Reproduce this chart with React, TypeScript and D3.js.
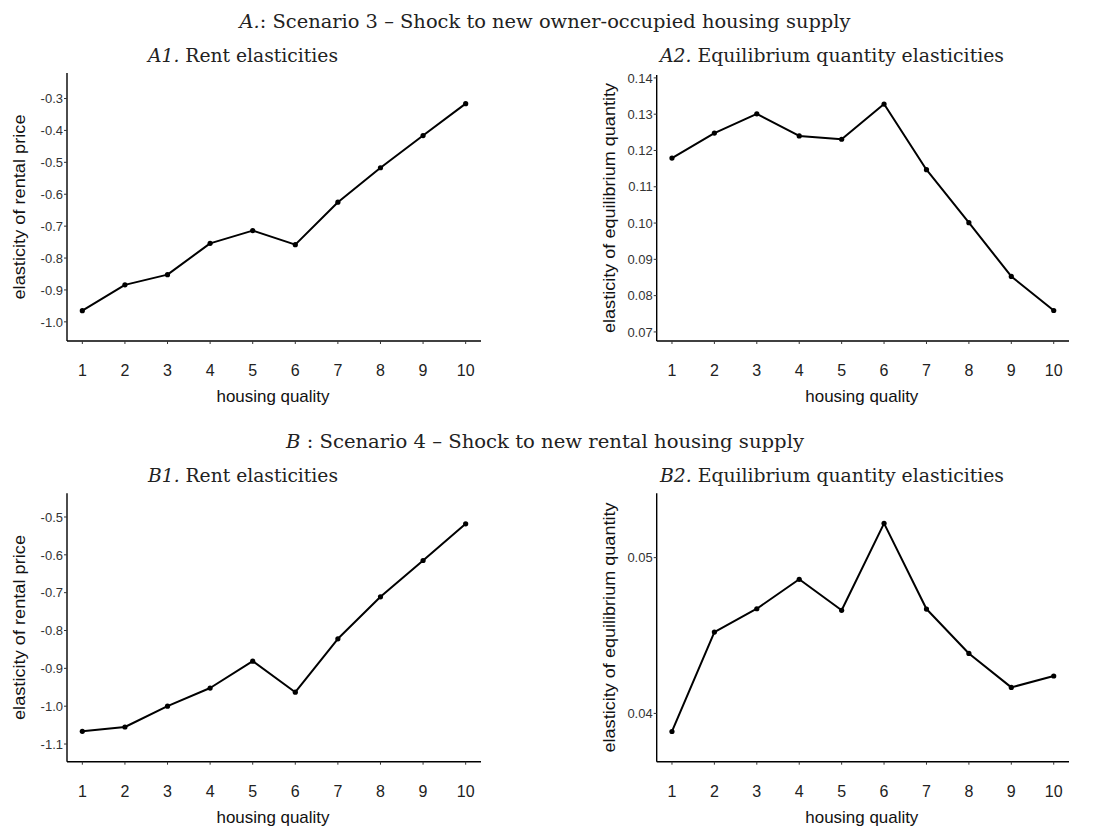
import React from "react";
import * as d3 from "d3";

const quality = [1, 2, 3, 4, 5, 6, 7, 8, 9, 10];
const a1Rent = [-0.965, -0.884, -0.852, -0.754, -0.714, -0.758, -0.625, -0.517, -0.416, -0.316];
const a2Qty = [0.1179, 0.1248, 0.1301, 0.124, 0.1231, 0.1328, 0.1147, 0.1001, 0.0853, 0.0759];
const b1Rent = [-1.0665, -1.055, -1.0, -0.952, -0.881, -0.963, -0.822, -0.711, -0.615, -0.518];
const b2Qty = [0.03884, 0.04522, 0.04672, 0.04861, 0.04662, 0.0522, 0.0467, 0.04385, 0.04167, 0.0424];

const a1Ticks = [-1.0, -0.9, -0.8, -0.7, -0.6, -0.5, -0.4, -0.3];
const a2Ticks = [0.07, 0.08, 0.09, 0.1, 0.11, 0.12, 0.13, 0.14];
const b1Ticks = [-1.1, -1.0, -0.9, -0.8, -0.7, -0.6, -0.5];
const b2Ticks = [0.04, 0.05];

const titleA = ": Scenario 3 \u2013 Shock to new owner-occupied housing supply";
const titleB = " : Scenario 4 \u2013 Shock to new rental housing supply";

type Panel = {
  tag: string;
  title: string;
  titleCx: number;
  titleLen: number;
  values: number[];
  ticks: number[];
  fmt: (v: number) => string;
  yDomain: [number, number];
  left: number;
  right: number;
  top: number;
  bottom: number;
  yTitle: string;
  yTitleX: number;
  yTitleLen: number;
  titleY: number;
};

const fmt1 = (v: number) => d3.format(".1f")(v).replace("\u2212", "-");
const fmt2 = (v: number) => d3.format(".2f")(v);

const panels: Panel[] = [
  { tag: "A1.", title: " Rent elasticities", titleCx: 243, titleLen: 190, values: a1Rent, ticks: a1Ticks, fmt: fmt1,
    yDomain: [-1.06, -0.22], left: 67, right: 481, top: 73, bottom: 341, yTitle: "elasticity of rental price", yTitleX: 25, yTitleLen: 185, titleY: 62 },
  { tag: "A2.", title: " Equilibrium quantity elasticities", titleCx: 832, titleLen: 344, values: a2Qty, ticks: a2Ticks, fmt: fmt2,
    yDomain: [0.0675, 0.1408], left: 656.7, right: 1069, top: 75, bottom: 341, yTitle: "elasticity of equilibrium quantity", yTitleX: 615, yTitleLen: 250, titleY: 62 },
  { tag: "B1.", title: " Rent elasticities", titleCx: 243, titleLen: 190, values: b1Rent, ticks: b1Ticks, fmt: fmt1,
    yDomain: [-1.1467, -0.4374], left: 67, right: 481, top: 493.3, bottom: 761.7, yTitle: "elasticity of rental price", yTitleX: 25, yTitleLen: 185, titleY: 482 },
  { tag: "B2.", title: " Equilibrium quantity elasticities", titleCx: 832, titleLen: 344, values: b2Qty, ticks: b2Ticks, fmt: fmt2,
    yDomain: [0.0369, 0.05413], left: 656.7, right: 1069, top: 493.3, bottom: 761.7, yTitle: "elasticity of equilibrium quantity", yTitleX: 615, yTitleLen: 250, titleY: 482 },
];

const serif = "'DejaVu Serif', 'Liberation Serif', serif";
const sans = "'Liberation Sans', Arial, sans-serif";

function PanelView({ p }: { p: Panel }) {
  const x = d3.scaleLinear().domain([0.64, 10.36]).range([p.left, p.right]);
  const y = d3.scaleLinear().domain(p.yDomain).range([p.bottom, p.top]);
  const pts = quality.map((q, i) => [q, p.values[i]] as [number, number]);
  const line = d3.line<[number, number]>().x((d) => x(d[0])).y((d) => y(d[1]));
  const cx = (p.left + p.right) / 2 - 1;
  return (
    <g>
      <text x={p.titleCx} y={p.titleY} textAnchor="middle" fontFamily={serif} fontSize={18} fill="#222"
        textLength={p.titleLen} lengthAdjust="spacingAndGlyphs">
        <tspan fontStyle="italic">{p.tag}</tspan>
        <tspan>{p.title}</tspan>
      </text>
      <line x1={p.left} x2={p.left} y1={p.top} y2={p.bottom} stroke="#000" strokeWidth={1.4} />
      <line x1={p.left} x2={p.right} y1={p.bottom} y2={p.bottom} stroke="#000" strokeWidth={1.4} />
      {p.ticks.map((t) => (
        <g key={t}>
          <line x1={p.left - 3} x2={p.left} y1={y(t)} y2={y(t)} stroke="#333" strokeWidth={1} />
          <text x={p.left - 4} y={y(t)} dy="0.36em" textAnchor="end" fontFamily={sans} fontSize={13} fill="#333">
            {p.fmt(t)}
          </text>
        </g>
      ))}
      {quality.map((q) => (
        <g key={q}>
          <line x1={x(q)} x2={x(q)} y1={p.bottom} y2={p.bottom + 3} stroke="#333" strokeWidth={1} />
          <text x={x(q)} y={p.bottom + 35} textAnchor="middle" fontFamily={sans} fontSize={16} fill="#222">
            {q}
          </text>
        </g>
      ))}
      <text x={cx} y={p.bottom + 61} textAnchor="middle" fontFamily={sans} fontSize={17} fill="#111"
        textLength={113} lengthAdjust="spacingAndGlyphs">
        housing quality
      </text>
      <g transform={`translate(${p.yTitleX},${(p.top + p.bottom) / 2}) rotate(-90)`}>
        <text x={0} y={0} textAnchor="middle" fontFamily={sans} fontSize={17} fill="#111"
          textLength={p.yTitleLen} lengthAdjust="spacingAndGlyphs">
          {p.yTitle}
        </text>
      </g>
      <path d={line(pts) || ""} fill="none" stroke="#000" strokeWidth={2} strokeLinejoin="round" />
      {pts.map((d, i) => (
        <circle key={i} cx={x(d[0])} cy={y(d[1])} r={2.6} fill="#000" />
      ))}
    </g>
  );
}

export default function App() {
  return (
    <svg width={1098} height={833} style={{ position: "absolute", left: 0, top: 0, background: "#fff" }}>
      <rect width={1098} height={833} fill="#fff" />
      <text x={545} y={28} textAnchor="middle" fontFamily={serif} fontSize={18} fill="#222" textLength={611}
        lengthAdjust="spacingAndGlyphs">
        <tspan fontStyle="italic">A.</tspan>
        <tspan>{titleA}</tspan>
      </text>
      <text x={545} y={448} textAnchor="middle" fontFamily={serif} fontSize={18} fill="#222" textLength={518}
        lengthAdjust="spacingAndGlyphs">
        <tspan fontStyle="italic">B</tspan>
        <tspan>{titleB}</tspan>
      </text>
      {panels.map((p) => (
        <PanelView key={p.tag} p={p} />
      ))}
    </svg>
  );
}
